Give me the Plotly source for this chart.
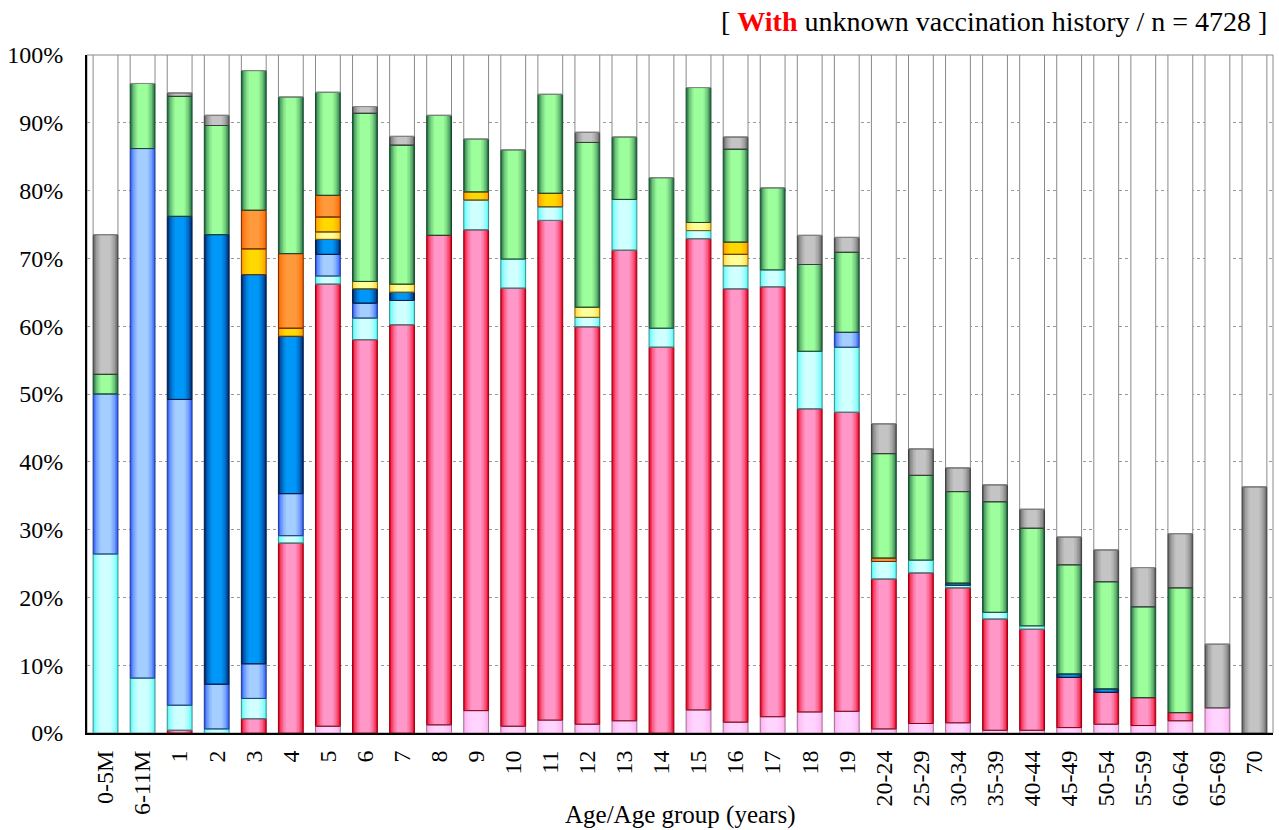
import numpy as np
import plotly.graph_objects as go

categories = ["0-5M", "6-11M", "1", "2", "3", "4", "5", "6", "7", "8", "9", "10",
              "11", "12", "13", "14", "15", "16", "17", "18", "19",
              "20-24", "25-29", "30-34", "35-39", "40-44", "45-49", "50-54",
              "55-59", "60-64", "65-69", "70"]

# percent values of each stacked segment, bottom to top
light_pink = [0, 0, 0, 0, 0, 0, 1.0, 0, 0, 1.2, 3.3, 1.0, 1.9, 1.3, 1.8, 0, 3.4, 1.6, 2.4, 3.1, 3.2,
              0.6, 1.4, 1.5, 0.4, 0.4, 0.8, 1.3, 1.1, 1.8, 3.7, 0]
red = [0, 0, 0.4, 0, 2.1, 28.0, 65.2, 58.0, 60.2, 72.2, 70.9, 64.6, 73.7, 58.6, 69.4, 56.9, 69.5, 63.9, 63.4, 44.7, 44.1,
       22.1, 22.2, 19.9, 16.4, 14.9, 7.4, 4.7, 4.1, 1.2, 0, 0]
cyan = [26.4, 8.1, 3.7, 0.6, 3.0, 1.1, 1.2, 3.2, 3.6, 0, 4.4, 4.3, 2.0, 1.4, 7.5, 2.8, 1.2, 3.4, 2.5, 8.5, 9.6,
        2.6, 1.9, 0.4, 1.0, 0.5, 0, 0, 0, 0, 0, 0]
light_blue = [23.6, 78.1, 45.1, 6.6, 5.1, 6.2, 3.2, 2.2, 0, 0, 0, 0, 0, 0, 0, 0, 0, 0, 0, 0, 2.2,
              0, 0, 0, 0, 0, 0, 0, 0, 0, 0, 0]
blue = [0, 0, 27.0, 66.3, 57.4, 23.2, 2.2, 2.1, 1.2, 0, 0, 0, 0, 0, 0, 0, 0, 0, 0, 0, 0,
        0, 0, 0.3, 0, 0, 0.5, 0.5, 0, 0, 0, 0]
light_yellow = [0, 0, 0, 0, 0, 0, 1.1, 1.1, 1.2, 0, 0, 0, 0, 1.5, 0, 0, 1.2, 1.7, 0, 0, 0,
                0, 0, 0, 0, 0, 0, 0, 0, 0, 0, 0]
gold = [0, 0, 0, 0, 3.8, 1.2, 2.2, 0, 0, 0, 1.2, 0, 2.0, 0, 0, 0, 0, 1.8, 0, 0, 0,
        0, 0, 0, 0, 0, 0, 0, 0, 0, 0, 0]
orange = [0, 0, 0, 0, 5.7, 11.0, 3.2, 0, 0, 0, 0, 0, 0, 0, 0, 0, 0, 0, 0, 0, 0,
          0.5, 0, 0, 0, 0, 0, 0, 0, 0, 0, 0]
green = [2.9, 9.6, 17.7, 16.1, 20.6, 23.1, 15.2, 24.8, 20.5, 17.7, 7.8, 16.1, 14.6, 24.3, 9.2, 22.2, 19.9, 13.7, 12.1, 12.8, 11.8,
         15.4, 12.5, 13.5, 16.3, 14.4, 16.1, 15.8, 13.4, 18.4, 0, 0]
gray = [20.6, 0, 0.5, 1.5, 0, 0, 0, 1.0, 1.3, 0, 0, 0, 0, 1.5, 0, 0, 0, 1.8, 0, 4.3, 2.2,
        4.4, 3.9, 3.5, 2.5, 2.8, 4.1, 4.7, 5.8, 8.0, 9.4, 36.3]

colored = [light_pink, red, cyan, light_blue, blue, light_yellow, gold, orange, green, gray]
remainder = list(100 - np.sum(np.array(colored, dtype=float), axis=0))

# (name, values, edge colour, centre colour, outline colour)
series = [
    ("light pink", light_pink, "#FFB0EE", "#FFD4FF", "#9A7090"),
    ("red", red, "#EE0A2A", "#FF98C8", "#8C0010"),
    ("cyan", cyan, "#5CFAFA", "#D0FFFF", "#3A8C8C"),
    ("light blue", light_blue, "#3462FF", "#A4CEFF", "#203C80"),
    ("blue", blue, "#002C78", "#0098F8", "#001A40"),
    ("light yellow", light_yellow, "#FFD640", "#FFFF9A", "#7A6000"),
    ("gold", gold, "#FF9A00", "#FFD800", "#703800"),
    ("orange", orange, "#FF6600", "#FF9A3C", "#6A2A00"),
    ("green", green, "#2A7449", "#9CFF9C", "#184A2A"),
    ("gray", gray, "#6A6A6A", "#C4C4C4", "#3C3C3C"),
    ("no data", remainder, "#FFFFFF", "#FFFFFF", "#8A8A8A"),
]

BAR_W = 0.67
levels = [(1.0, 0.0), (0.88, 0.35), (0.76, 0.58), (0.64, 0.75), (0.52, 0.88), (0.40, 1.0)]


def hex2rgb(h):
    h = h.lstrip("#")
    return np.array([int(h[i:i + 2], 16) for i in (0, 2, 4)], dtype=float)


def mix(c1, c2, t):
    a, b = hex2rgb(c1), hex2rgb(c2)
    c = a + (b - a) * t
    return "rgb(%d,%d,%d)" % tuple(np.round(c).astype(int))


fig = go.Figure()
stack = np.zeros(len(categories))
outline_traces = []
for name, vals, edge, center, line in series:
    v = np.array(vals, dtype=float)
    shown = [x if x > 0.01 else None for x in v]
    base = list(stack)
    for frac, t in levels:
        fig.add_trace(go.Bar(
            x=categories, y=shown, base=base, width=BAR_W * frac,
            marker=dict(color=mix(edge, center, t), line=dict(width=0)),
            name=name, showlegend=False, hoverinfo="skip"))
    outline_traces.append(go.Bar(
        x=categories, y=shown, base=base, width=BAR_W,
        marker=dict(color="rgba(0,0,0,0)", line=dict(color=line, width=1)),
        name=name, showlegend=False, hovertemplate="%{x}: %{y:.1f}%<extra>" + name + "</extra>"))
    stack += v
for tr in outline_traces:
    fig.add_trace(tr)

FONT = "Liberation Serif"

fig.update_layout(
    width=1279, height=830,
    margin=dict(l=87, r=6, t=55, b=97, autoexpand=False),
    barmode="overlay",
    plot_bgcolor="white", paper_bgcolor="white",
    font=dict(family=FONT, size=24, color="black"),
    showlegend=False,
    xaxis=dict(
        type="category", tickangle=-90, showgrid=False, automargin=False,
        showline=True, linecolor="black", linewidth=2,
        ticks="", ticklabelstandoff=6,
        tickfont=dict(family=FONT, size=24, color="black"),
    ),
    yaxis=dict(
        range=[0, 100], dtick=10, ticksuffix="%", automargin=False,
        showgrid=True, gridcolor="#9A9A9A", griddash="dot", gridwidth=1,
        showline=True, linecolor="black", linewidth=2,
        ticks="", ticklabelstandoff=17, zeroline=False,
        tickfont=dict(family=FONT, size=24, color="black"),
    ),
    shapes=[dict(type="rect", xref="paper", yref="paper", x0=0, x1=1, y0=0, y1=1,
                 line=dict(color="#8A8A8A", width=1), layer="below")],
    annotations=[
        dict(text="[ <b><span style='color:#FF0000'>With</span></b> unknown vaccination history / n = 4728 ]",
             xref="paper", yref="paper", x=0.997, y=1.0487, xanchor="right", yanchor="middle",
             showarrow=False, font=dict(family=FONT, size=28, color="black")),
        dict(text="Age/Age group (years)", xref="paper", yref="paper", x=0.5, y=-0.121,
             xanchor="center", yanchor="middle", showarrow=False,
             font=dict(family=FONT, size=25, color="black")),
    ],
)

fig.write_html("out.html", config={"displayModeBar": False},
               post_script="document.body.style.margin='0';document.body.style.overflow='hidden';")
